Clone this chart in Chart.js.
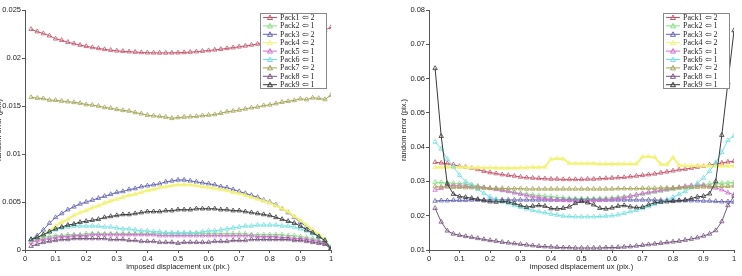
<!DOCTYPE html>
<html>
<head>
<meta charset="utf-8">
<script src="https://cdn.jsdelivr.net/npm/chart.js@4.4.1/dist/chart.umd.min.js"></script>
<style>
  html, body { margin: 0; padding: 0; background: #fff; }
  body { width: 742px; height: 276px; position: relative; overflow: hidden; }
  canvas { position: absolute; top: 0; }
  #graficoEsq { left: -10px; }
  #graficoDir { left: 395px; }
</style>
</head>
<body>
<canvas id="graficoEsq" width="381" height="276"></canvas>
<canvas id="graficoDir" width="347" height="276"></canvas>
<script>
// imposed displacement (x)
const ux = [0.02,0.04,0.06,0.08,0.10,0.12,0.14,0.16,0.18,0.20,
            0.22,0.24,0.26,0.28,0.30,0.32,0.34,0.36,0.38,0.40,
            0.42,0.44,0.46,0.48,0.50,0.52,0.54,0.56,0.58,0.60,
            0.62,0.64,0.66,0.68,0.70,0.72,0.74,0.76,0.78,0.80,
            0.82,0.84,0.86,0.88,0.90,0.92,0.94,0.96,0.98,1.00];

const packLabels = ['Pack1 \u21e6 2','Pack2 \u21e6 1','Pack3 \u21e6 2','Pack4 \u21e6 2','Pack5 \u21e6 1',
                    'Pack6 \u21e6 1','Pack7 \u21e6 2','Pack8 \u21e6 1','Pack9 \u21e6 1'];

const xTicks = [0,0.1,0.2,0.3,0.4,0.5,0.6,0.7,0.8,0.9,1];
const yTicksEsq = [0,0.005,0.01,0.015,0.02,0.025];
const yTicksDir = [0.01,0.02,0.03,0.04,0.05,0.06,0.07,0.08];

// grafico da esquerda
const esqPack1 = [.0230,.02275,.02255,.02232,.0220,.02185,.02165,.0215,.02135,.02122,
  .0211,.021,.0209,.02082,.02075,.0207,.02066,.02062,.02058,.02055,
  .02054,.02053,.02053,.02054,.02055,.02058,.02062,.02066,.02072,.02078,
  .02085,.02092,.021,.02108,.02117,.02126,.02136,.02146,.02157,.02168,
  .0218,.02192,.02205,.02218,.02232,.02246,.0226,.02275,.0229,.0232];
const esqPack2 = [.0010,.0012,.0013,.0014,.0015,.0015,.0016,.0016,.0016,.0017,
  .0017,.0017,.0017,.0017,.0017,.0017,.0017,.0017,.0017,.0017,
  .0017,.0017,.0017,.0017,.0017,.0017,.0017,.0017,.0017,.0017,
  .0017,.0017,.0017,.0017,.0017,.0017,.0016,.0016,.0016,.0016,
  .0016,.0016,.0015,.0015,.0014,.0013,.0012,.0010,.0008,.0002];
const esqPack3 = [.0011,.0015,.0021,.0028,.0034,.0038,.0042,.0045,.0048,.0050,
  .0052,.0054,.0056,.0058,.0060,.0061,.0063,.0064,.0066,.0067,
  .0068,.0069,.0071,.0072,.0073,.0073,.0072,.0071,.0070,.0069,
  .0068,.0066,.0065,.0063,.0061,.0059,.0057,.0055,.0052,.0050,
  .0047,.0043,.0039,.0034,.0029,.0024,.0019,.0014,.0010,.0001];
const esqPack4 = [.0009,.0012,.0016,.0020,.0025,.0029,.0032,.0036,.0039,.0041,
  .0044,.0046,.0049,.0051,.0053,.0055,.0057,.0058,.0060,.0062,
  .0063,.0065,.0066,.0067,.0068,.0068,.0068,.0067,.0066,.0065,
  .0064,.0063,.0062,.0060,.0059,.0057,.0055,.0053,.0051,.0049,
  .0046,.0043,.0040,.0035,.0031,.0026,.0021,.0016,.0011,.0002];
const esqPack5 = [.0008,.0010,.0011,.0012,.0013,.0014,.0014,.0015,.0015,.0015,
  .0016,.0016,.0016,.0016,.0016,.0016,.0016,.0016,.0016,.0016,
  .0016,.0015,.0015,.0015,.0015,.0015,.0015,.0015,.0015,.0015,
  .0015,.0015,.0015,.0015,.0015,.0015,.0015,.0014,.0014,.0014,
  .0014,.0013,.0013,.0012,.0012,.0011,.0010,.0009,.0007,.0002];
const esqPack6 = [.0010,.0013,.0016,.0019,.0021,.0023,.0024,.0025,.0025,.0025,
  .0025,.0025,.0024,.0024,.0023,.0022,.0022,.0021,.0020,.0020,
  .0019,.0019,.0018,.0018,.0018,.0018,.0018,.0018,.0019,.0020,
  .0020,.0021,.0022,.0023,.0024,.0025,.0025,.0026,.0026,.0026,
  .0026,.0025,.0025,.0024,.0022,.0020,.0017,.0014,.0010,.0003];
const esqPack7 = [.0159,.01582,.01578,.01562,.0156,.01552,.01545,.01538,.0153,.01515,
  .0151,.015,.01485,.01478,.01465,.01455,.01448,.01432,.0142,.01405,
  .01398,.01392,.01385,.01372,.0138,.01385,.01388,.01392,.014,.01405,
  .01412,.01425,.0144,.01448,.01458,.0147,.01482,.0149,.01505,.01512,
  .01525,.0154,.0155,.01558,.01575,.01568,.01585,.0158,.01568,.01612];
const esqPack8 = [.0004,.0006,.0008,.0009,.0010,.0011,.0011,.0012,.0012,.0012,
  .0012,.0012,.0012,.0011,.0011,.0011,.0010,.0010,.0009,.0009,
  .0009,.0008,.0008,.0008,.0007,.0008,.0008,.0008,.0008,.0008,
  .0009,.0009,.0009,.0010,.0010,.0010,.0011,.0011,.0011,.0011,
  .0011,.0011,.0011,.0010,.0010,.0009,.0008,.0007,.0006,.0001];
const esqPack9 = [.0011,.0013,.0016,.0019,.0022,.0024,.0026,.0027,.0029,.0030,
  .0031,.0032,.0034,.0035,.0036,.0037,.0037,.0038,.0039,.0040,
  .0040,.0040,.0041,.0041,.0042,.0042,.0042,.0043,.0043,.0043,
  .0043,.0042,.0042,.0041,.0041,.0040,.0039,.0038,.0037,.0036,
  .0034,.0032,.0030,.0028,.0025,.0021,.0018,.0014,.0010,.0001];

// grafico da direita
const dirPack1 = [.0356,.0354,.0352,.0349,.0344,.0342,.0339,.0335,.0330,.0326,
  .0323,.0320,.0318,.0316,.0313,.0311,.0310,.0309,.0308,.0307,
  .0307,.0306,.0306,.0306,.0306,.0307,.0307,.0308,.0309,.0310,
  .0311,.0312,.0314,.0316,.0318,.0320,.0322,.0325,.0328,.0331,
  .0334,.0336,.0339,.0342,.0345,.0348,.0351,.0354,.0357,.0359];
const dirPack2 = [.0298,.0297,.0296,.0295,.0294,.0292,.0290,.0287,.0283,.0280,
  .0277,.0274,.0271,.0268,.0265,.0263,.0261,.0259,.0257,.0256,
  .0254,.0252,.0251,.0250,.0250,.0250,.0250,.0251,.0251,.0252,
  .0254,.0256,.0258,.0260,.0263,.0266,.0269,.0272,.0275,.0277,
  .0280,.0283,.0286,.0289,.0291,.0293,.0294,.0295,.0296,.0297];
const dirPack3 = [.0243,.0244,.0244,.0245,.0245,.0245,.0246,.0246,.0246,.0246,
  .0246,.0246,.0246,.0246,.0246,.0246,.0246,.0246,.0246,.0246,
  .0246,.0246,.0246,.0246,.0246,.0246,.0246,.0246,.0246,.0246,
  .0246,.0246,.0246,.0246,.0246,.0246,.0246,.0245,.0245,.0245,
  .0245,.0244,.0244,.0244,.0243,.0243,.0242,.0241,.0241,.0240];
const dirPack4 = [.0341,.0341,.0341,.0341,.0341,.0341,.0340,.0340,.0340,.0340,
  .0339,.0339,.0339,.0339,.0340,.0340,.0341,.0341,.0342,.0365,
  .0367,.0366,.0353,.0352,.0352,.0352,.0352,.0351,.0351,.0351,
  .0351,.0351,.0351,.0351,.0372,.0373,.0371,.0350,.0349,.0370,
  .0347,.0346,.0346,.0346,.0346,.0345,.0345,.0345,.0345,.0345];
const dirPack5 = [.0275,.0280,.0287,.0288,.0287,.0286,.0285,.0284,.0282,.0280,
  .0277,.0274,.0271,.0267,.0263,.0259,.0256,.0253,.0250,.0248,
  .0246,.0245,.0244,.0243,.0243,.0243,.0244,.0245,.0246,.0248,
  .0250,.0253,.0257,.0261,.0265,.0268,.0271,.0274,.0277,.0280,
  .0283,.0286,.0288,.0289,.0288,.0285,.0281,.0276,.0267,.0261];
const dirPack6 = [.0415,.0395,.0365,.0343,.0318,.0300,.0290,.0277,.0265,.0255,
  .0248,.0241,.0236,.0230,.0225,.0220,.0216,.0212,.0209,.0205,
  .0202,.0199,.0198,.0197,.0197,.0197,.0197,.0198,.0199,.0200,
  .0203,.0207,.0212,.0216,.0221,.0227,.0233,.0239,.0246,.0254,
  .0262,.0271,.0282,.0295,.0310,.0330,.0355,.0385,.0420,.0433];
const dirPack7 = [.0285,.0284,.0284,.0283,.0283,.0282,.0282,.0281,.0281,.0280,
  .0280,.0280,.0279,.0279,.0279,.0278,.0278,.0278,.0278,.0278,
  .0278,.0278,.0278,.0278,.0278,.0278,.0278,.0278,.0278,.0278,
  .0279,.0279,.0279,.0279,.0280,.0280,.0280,.0281,.0281,.0281,
  .0282,.0282,.0283,.0283,.0284,.0284,.0285,.0286,.0286,.0287];
const dirPack8 = [.0222,.0182,.0156,.0147,.0143,.0140,.0137,.0134,.0131,.0128,
  .0126,.0123,.0121,.0119,.0117,.0115,.0113,.0111,.0110,.0109,
  .0108,.0107,.0107,.0106,.0106,.0106,.0106,.0106,.0107,.0107,
  .0108,.0109,.0110,.0112,.0114,.0116,.0118,.0120,.0122,.0124,
  .0126,.0129,.0132,.0136,.0141,.0147,.0157,.0183,.0230,.0257];
const dirPack9 = [.0630,.0432,.0293,.0263,.0256,.0254,.0251,.0248,.0244,.0241,
  .0240,.0242,.0240,.0236,.0230,.0225,.0228,.0230,.0228,.0221,
  .0220,.0222,.0226,.0236,.0242,.0238,.0232,.0222,.0220,.0223,
  .0228,.0230,.0226,.0224,.0225,.0232,.0238,.0240,.0241,.0242,
  .0244,.0246,.0250,.0255,.0257,.0264,.0300,.0435,.0588,.0740];

const coresPack = ['#c4566c','#86e086','#6464b4','#f2f27a','#d070d0',
                   '#74e0e0','#a4a458','#76567e','#3a3a3a'];
const larguraPack = [1,1,1,2,1,1,1,1,1];

const fonteEixo = { family: '"Liberation Sans", Arial, sans-serif', size: 7.5 };

/**
 * Legenda desenhada dentro da area do grafico (estilo MATLAB)
 */
const legendaInterna = {
    id: 'legendaInterna',
    afterDraw(chart) {
        const ctx = chart.ctx;
        const area = chart.chartArea;
        const w = 67, h = 76;
        const x0 = area.right - 4 - w;
        const y0 = area.top + 3;
        ctx.save();
        ctx.fillStyle = '#fff';
        ctx.fillRect(x0, y0, w, h);
        ctx.strokeStyle = '#888';
        ctx.lineWidth = 1;
        ctx.strokeRect(x0 + 0.5, y0 + 0.5, w - 1, h - 1);
        ctx.font = '8px "Liberation Serif", "Times New Roman", serif';
        ctx.textBaseline = 'middle';
        chart.data.datasets.forEach((ds, i) => {
            const y = y0 + 4.5 + i * 8.4;
            ctx.strokeStyle = ds.borderColor;
            ctx.lineWidth = 1;
            ctx.beginPath();
            ctx.moveTo(x0 + 3, y);
            ctx.lineTo(x0 + 17, y);
            ctx.stroke();
            const cx = x0 + 10;
            ctx.beginPath();
            ctx.moveTo(cx, y - 2.5);
            ctx.lineTo(cx + 2.5, y + 2);
            ctx.lineTo(cx - 2.5, y + 2);
            ctx.closePath();
            ctx.stroke();
            ctx.fillStyle = '#222';
            ctx.fillText(ds.label, x0 + 20, y + 0.5);
        });
        ctx.restore();
    }
};

function montaGrafico(id, series, yTicks, larguraY, padDireita) {
    const ctx = document.getElementById(id).getContext('2d');
    const datasets = series.map((s, i) => ({
        label: packLabels[i],
        data: ux.map((x, k) => ({ x: x, y: s[k] })),
        borderColor: coresPack[i],
        backgroundColor: 'transparent',
        borderWidth: larguraPack[i],
        pointStyle: 'triangle',
        pointRadius: 2.6,
        pointBorderWidth: 0.8,
        pointBackgroundColor: 'transparent',
        pointBorderColor: coresPack[i],
        tension: 0,
        order: series.length - 1 - i
    }));
    return new Chart(ctx, {
        type: 'line',
        data: { datasets: datasets },
        plugins: [legendaInterna],
        options: {
            responsive: false,
            animation: false,
            events: [],
            layout: { padding: { top: 10, right: padDireita, left: 0, bottom: 0 } },
            plugins: { legend: { display: false }, tooltip: { enabled: false } },
            scales: {
                x: {
                    type: 'linear',
                    min: xTicks[0],
                    max: xTicks[xTicks.length - 1],
                    afterBuildTicks: sc => { sc.ticks = xTicks.map(v => ({ value: v })); },
                    afterFit: sc => { sc.height = 26; },
                    grid: { display: true, drawOnChartArea: false, tickLength: 3, color: '#555' },
                    border: { color: '#555' },
                    ticks: { font: fonteEixo, color: '#222', padding: 1, maxRotation: 0,
                             callback: v => String(+v.toFixed(2)) },
                    title: { display: true, text: 'imposed displacement ux (pix.)',
                             font: fonteEixo, color: '#222', padding: { top: 0, bottom: 5 } }
                },
                y: {
                    type: 'linear',
                    min: yTicks[0],
                    max: yTicks[yTicks.length - 1],
                    afterBuildTicks: sc => { sc.ticks = yTicks.map(v => ({ value: v })); },
                    afterFit: sc => { sc.width = larguraY; },
                    grid: { display: true, drawOnChartArea: false, tickLength: 3, color: '#555' },
                    border: { color: '#555' },
                    ticks: { font: fonteEixo, color: '#222', padding: 1,
                             callback: v => String(+v.toFixed(3)) },
                    title: { display: true, text: 'random error (pix.)',
                             font: fonteEixo, color: '#222', padding: { top: 4, bottom: 0 } }
                }
            }
        }
    });
}

montaGrafico('graficoEsq',
    [esqPack1, esqPack2, esqPack3, esqPack4, esqPack5, esqPack6, esqPack7, esqPack8, esqPack9],
    yTicksEsq, 35, 40);
montaGrafico('graficoDir',
    [dirPack1, dirPack2, dirPack3, dirPack4, dirPack5, dirPack6, dirPack7, dirPack8, dirPack9],
    yTicksDir, 34, 8);
</script>
</body>
</html>
